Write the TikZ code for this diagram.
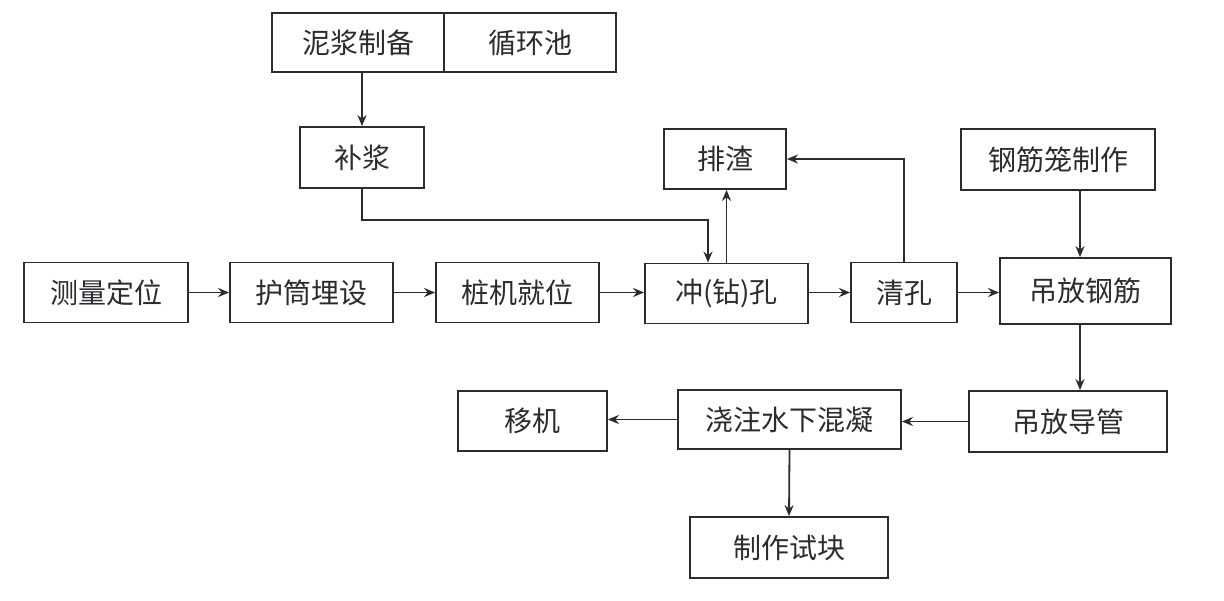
\documentclass[tikz,border=0pt]{standalone}
\usepackage{fontspec}
\newfontfamily\cjk{Noto Sans CJK SC}
\usetikzlibrary{arrows.meta}
\definecolor{ink}{HTML}{2B2B30}
\begin{document}
\begin{tikzpicture}[x=0.5pt,y=-0.5pt,
  box/.style={draw=ink, line width=0.9pt, fill=white, inner sep=0pt,
    text=ink, font=\cjk\fontsize{14}{14}\selectfont, minimum height=30pt},
  arr/.style={draw=ink, line width=0.9pt, -{Stealth[length=5.5pt,width=4.5pt]}}]
\useasboundingbox[fill=white] (0,0) rectangle (1224,600);
% top
\node[box, minimum width=86pt, minimum height=29.5pt] (nj) at (358,42.5) {泥浆制备};
\node[box, minimum width=86pt, minimum height=29.5pt] (xh) at (530,42.5) {循环池};
\node[box, minimum width=62pt, minimum height=30.5pt] (bj) at (362,157.5) {补浆};
\node[box, minimum width=61pt] (pz) at (725,159) {排渣};
\node[box, minimum width=97pt, minimum height=30.5pt] (gjl) at (1058,159.5) {钢筋笼制作};
% middle row
\node[box, minimum width=82pt] (cl) at (106,292.5) {测量定位};
\node[box, minimum width=81.5pt] (ht) at (311.5,292.5) {护筒埋设};
\node[box, minimum width=81.5pt] (zj) at (517.5,292.5) {桩机就位};
\node[box, minimum width=81.5pt] (ck) at (726.5,293.5) {冲(钻)孔};
\node[box, minimum width=53pt] (qk) at (904,292.5) {清孔};
\node[box, minimum width=85.5pt, minimum height=33pt] (dg) at (1085.5,291) {吊放钢筋};
% bottom row
\node[box, minimum width=74.5pt] (yj) at (532.5,421) {移机};
\node[box, minimum width=111.5pt, minimum height=29.5pt] (jz) at (789.5,419.5) {浇注水下混凝};
\node[box, minimum width=99pt, minimum height=30.5pt] (dd) at (1068,421.5) {吊放导管};
\node[box, minimum width=99pt, minimum height=30.5pt] (sk) at (789,547.5) {制作试块};
% helper coordinates
\coordinate (c1) at (708,220);
\coordinate (vx) at (1080,0);
% connectors
\draw[arr] (bj.north |- nj.south) -- (bj.north);
\draw[arr] (bj.south) |- (c1) -- (c1 |- ck.north);
\draw[arr] (ck.north) -- (ck.north |- pz.south);
\draw[arr] (qk.north) |- (pz.east);
\draw[arr] (cl.east) -- (ht.west);
\draw[arr] (ht.east) -- (zj.west);
\draw[arr] (zj.east) -- (zj.east -| ck.west);
\draw[arr] (ck.east |- qk.west) -- (qk.west);
\draw[arr] (qk.east) -- (qk.east -| dg.west);
\draw[arr] (gjl.south -| vx) -- (dg.north -| vx);
\draw[arr] (dg.south -| vx) -- (dd.north -| vx);
\draw[arr] (dd.west) -- (dd.west -| jz.east);
\draw[arr] (jz.west) -- (jz.west -| yj.east);
\draw[arr] (jz.south) -- (sk.north);
\end{tikzpicture}
\end{document}
